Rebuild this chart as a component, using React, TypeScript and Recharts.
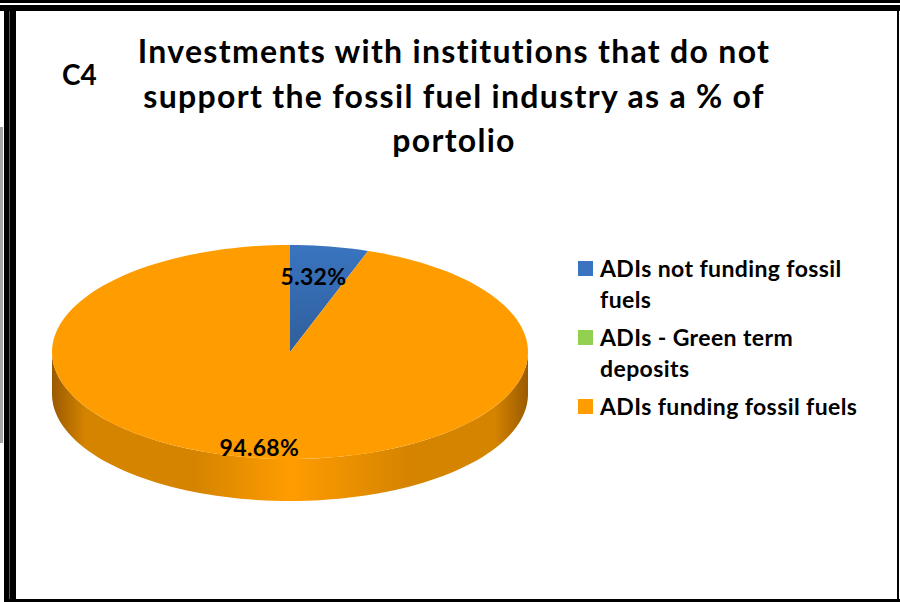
import React from 'react';
import { PieChart, Pie, Cell, Legend } from 'recharts';

// chart data
const CATEGORIES = ['ADIs not funding fossil fuels', 'ADIs - Green term deposits', 'ADIs funding fossil fuels'];
const SHARES = [5.32, 0, 94.68];
const TITLE_LINES = ['Investments with institutions that do not', 'support the fossil fuel industry as a % of', 'portolio'];
const CHART_TAG = 'C4';

const COLORS = ['#3a74c0', '#92d050', '#ff9c00'];
const SIDE_STOPS = [
  ['#3a74c0', '#27528a', '#2f619f'],
  ['#92d050', '#6a9a38', '#7fb545'],
  ['#ff9c00', '#9a5a00', '#d58400'],
];

const FONT = 'Lato, "Noto Sans", sans-serif';
const RAD = Math.PI / 180;
const SQUASH = 107 / 238;
const DEPTH = 42;

const data = CATEGORIES.map((name, i) => ({ name, value: SHARES[i] }));

const pt = (cx: number, cy: number, r: number, a: number) => [cx + r * Math.cos(a * RAD), cy - r * SQUASH * Math.sin(a * RAD)];

const arc = (cx: number, cy: number, r: number, a0: number, a1: number, dy = 0) => {
  const steps = Math.max(2, Math.ceil(Math.abs(a1 - a0) / 2));
  const out: string[] = [];
  for (let i = 0; i <= steps; i++) {
    const [x, y] = pt(cx, cy, r, a0 + ((a1 - a0) * i) / steps);
    out.push(`${x.toFixed(2)},${(y + dy).toFixed(2)}`);
  }
  return out;
};

const Slice = (props: any) => {
  const { cx, cy, outerRadius, startAngle, endAngle, index } = props;
  if (Math.abs(startAngle - endAngle) < 0.001) return null;
  const lo = Math.min(startAngle, endAngle);
  const hi = Math.max(startAngle, endAngle);
  const [base, dark, mid] = SIDE_STOPS[index];

  // front part of the rim: angles where the edge faces the viewer
  const sides: string[] = [];
  for (let k = -2; k <= 1; k++) {
    const a0 = Math.max(lo, -180 + 360 * k);
    const a1 = Math.min(hi, 360 * k);
    if (a1 > a0) {
      const top = arc(cx, cy, outerRadius, a0, a1);
      const bottom = arc(cx, cy, outerRadius, a1, a0, DEPTH);
      sides.push(`M${top.join(' L')} L${bottom.join(' L')} Z`);
    }
  }
  const face = `M${cx},${cy} L${arc(cx, cy, outerRadius, lo, hi).join(' L')} Z`;

  return (
    <g>
      <defs>
        <linearGradient id={`side-${index}`} gradientUnits="userSpaceOnUse" x1={cx - outerRadius} x2={cx + outerRadius} y1={0} y2={0}>
          <stop offset="0" stopColor={dark} />
          <stop offset="0.07" stopColor={mid} />
          <stop offset="0.3" stopColor={mid} />
          <stop offset="0.5" stopColor={base} />
          <stop offset="0.75" stopColor={mid} />
          <stop offset="0.93" stopColor={mid} />
          <stop offset="1" stopColor={dark} />
        </linearGradient>
        <linearGradient id={`face-${index}`} x1="0" x2="0" y1="0" y2="1">
          <stop offset="0" stopColor={base} />
          <stop offset="1" stopColor={index === 0 ? '#2f5f9c' : base} />
        </linearGradient>
      </defs>
      {sides.map((d, i) => (
        <path key={i} d={d} fill={`url(#side-${index})`} />
      ))}
      <path d={face} fill={`url(#face-${index})`} />
    </g>
  );
};

const renderLabel = (props: any) => {
  const { cx, cy, midAngle, outerRadius, value, index } = props;
  if (!value) return null;
  const [x, y] = pt(cx, cy, outerRadius * (index === 0 ? 0.72 : 0.9), midAngle);
  return (
    <text x={x - (index === 0 ? 5 : -5)} y={y} textAnchor="middle" dominantBaseline="central" fontFamily={FONT} fontWeight={700} fontSize={23} letterSpacing={0.3} fill="#000">
      {`${value.toFixed(2)}%`}
    </text>
  );
};

const renderLegend = (props: any) => {
  const items = [...(props.payload || [])].sort((a: any, b: any) => CATEGORIES.indexOf(a.value) - CATEGORIES.indexOf(b.value));
  return (
    <div style={{ width: 300, fontFamily: FONT, fontWeight: 700, fontSize: 23, letterSpacing: 0.4, lineHeight: '31px', color: '#000' }}>
      {items.map((item: any) => (
        <div key={item.value} style={{ display: 'flex', alignItems: 'flex-start', marginBottom: 7 }}>
          <span style={{ flex: '0 0 15px', height: 15, marginTop: 8, marginRight: 7, background: COLORS[CATEGORIES.indexOf(item.value)] }} />
          <span style={{ width: 276 }}>{item.value}</span>
        </div>
      ))}
    </div>
  );
};

export default function App() {
  return (
    <div style={{ position: 'fixed', left: 0, top: 0, width: 900, height: 602, background: '#fff', overflow: 'hidden' }}>
      <PieChart width={900} height={602} margin={{ top: 0, right: 0, bottom: 0, left: 0 }}>
        <Pie
          data={data}
          dataKey="value"
          nameKey="name"
          cx={290}
          cy={352}
          outerRadius={238}
          startAngle={90}
          endAngle={-270}
          stroke="none"
          shape={Slice}
          label={renderLabel}
          labelLine={false}
          isAnimationActive={false}
        >
          {data.map((d, i) => (
            <Cell key={d.name} fill={COLORS[i]} />
          ))}
        </Pie>
        <Legend
          layout="vertical"
          align="right"
          verticalAlign="top"
          content={renderLegend}
          wrapperStyle={{ left: 578, top: 253, width: 300 }}
        />
      </PieChart>

      <svg width={900} height={602} style={{ position: 'absolute', left: 0, top: 0, pointerEvents: 'none' }}>
        <text x={62} y={85} fontFamily={FONT} fontWeight={700} fontSize={28}>
          {CHART_TAG}
        </text>
        {TITLE_LINES.map((line, i) => (
          <text key={i} x={454} y={63 + i * 44.5} textAnchor="middle" fontFamily={FONT} fontWeight={700} fontSize={32} letterSpacing={1.3}>
            {line}
          </text>
        ))}
      </svg>

      {/* frame */}
      <div style={{ position: 'absolute', left: 0, top: 0, width: 900, height: 3, background: '#000' }} />
      <div style={{ position: 'absolute', left: 0, top: 5, width: 900, height: 6, background: '#000' }} />
      <div style={{ position: 'absolute', left: 4, top: 5, width: 12, height: 597, background: '#000' }} />
      <div style={{ position: 'absolute', left: 9, top: 11, width: 1, height: 591, background: '#555' }} />
      <div style={{ position: 'absolute', left: 897, top: 11, width: 2, height: 591, background: '#000' }} />
      <div style={{ position: 'absolute', left: 4, top: 599, width: 896, height: 3, background: '#000' }} />
      <div style={{ position: 'absolute', left: 0, top: 127, width: 3, height: 316, background: '#a6a6a6' }} />
    </div>
  );
}
